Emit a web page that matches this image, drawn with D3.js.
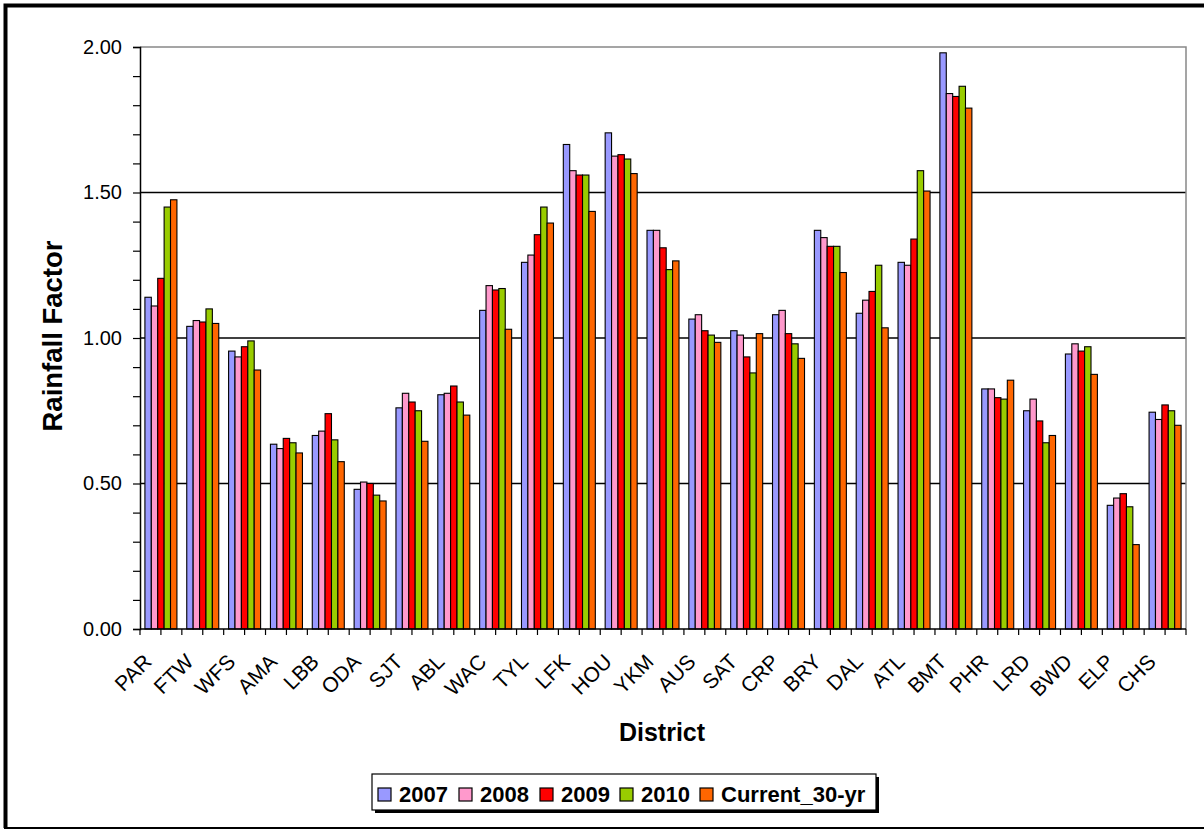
<!DOCTYPE html>
<html lang="en">
<head>
  <meta charset="UTF-8">
  <title>Rainfall Factor by District</title>
  <script src="https://d3js.org/d3.v7.min.js"></script>
  <style>
    body {
      margin: 0;
      font-family: Arial, "Liberation Sans", sans-serif;
      background: #fff;
    }
    svg text {
      fill: #000;
    }
  </style>
</head>
<body>
  <div id="chart"></div>

  <script>
    // Data
    const districts = ["PAR", "FTW", "WFS", "AMA", "LBB", "ODA", "SJT", "ABL", "WAC", "TYL", "LFK", "HOU", "YKM",
                       "AUS", "SAT", "CRP", "BRY", "DAL", "ATL", "BMT", "PHR", "LRD", "BWD", "ELP", "CHS"];
    const seriesNames = ["2007", "2008", "2009", "2010", "Current_30-yr"];
    const seriesColors = ["#9999FF", "#FF99CC", "#FF0000", "#99CC00", "#FF6600"];

    const y2007 = [1.14, 1.04, 0.955, 0.635, 0.665, 0.48, 0.76, 0.805, 1.095, 1.26, 1.665, 1.705, 1.37,
                   1.065, 1.025, 1.08, 1.37, 1.085, 1.26, 1.98, 0.825, 0.75, 0.945, 0.425, 0.745];
    const y2008 = [1.11, 1.06, 0.935, 0.62, 0.68, 0.505, 0.81, 0.81, 1.18, 1.285, 1.575, 1.625, 1.37,
                   1.08, 1.01, 1.095, 1.345, 1.13, 1.25, 1.84, 0.825, 0.79, 0.98, 0.45, 0.72];
    const y2009 = [1.205, 1.055, 0.97, 0.655, 0.74, 0.50, 0.78, 0.835, 1.165, 1.355, 1.56, 1.63, 1.31,
                   1.025, 0.935, 1.015, 1.315, 1.16, 1.34, 1.83, 0.795, 0.715, 0.955, 0.465, 0.77];
    const y2010 = [1.45, 1.10, 0.99, 0.64, 0.65, 0.46, 0.75, 0.78, 1.17, 1.45, 1.56, 1.615, 1.235,
                   1.01, 0.88, 0.98, 1.315, 1.25, 1.575, 1.865, 0.79, 0.64, 0.97, 0.42, 0.75];
    const yCurrent = [1.475, 1.05, 0.89, 0.605, 0.575, 0.44, 0.645, 0.735, 1.03, 1.395, 1.435, 1.565, 1.265,
                      0.985, 1.015, 0.93, 1.225, 1.035, 1.505, 1.79, 0.855, 0.665, 0.875, 0.29, 0.70];

    const yTicks = [0, 0.5, 1.0, 1.5, 2.0];

    const allSeries = [y2007, y2008, y2009, y2010, yCurrent];
    const rows = districts.map((d, i) => ({
      district: d,
      values: seriesNames.map((s, k) => ({ key: s, value: allSeries[k][i], color: seriesColors[k] }))
    }));

    const W = 1204, H = 830;
    const plot = { left: 140, right: 1186, top: 47, bottom: 629 };

    const svg = d3.select("#chart")
      .append("svg")
      .attr("width", W)
      .attr("height", H);

    // outer frame
    svg.append("rect")
      .attr("x", 0).attr("y", 0).attr("width", W).attr("height", H)
      .attr("fill", "#fff");
    svg.append("path")
      .attr("d", `M5.5,${H - 2}V5.5H${W}`)
      .attr("fill", "none").attr("stroke", "#000").attr("stroke-width", 4);
    svg.append("line")
      .attr("x1", 4).attr("x2", W).attr("y1", H - 2).attr("y2", H - 2)
      .attr("stroke", "#000").attr("stroke-width", 2);

    const x0 = d3.scaleBand()
      .domain(districts)
      .range([plot.left, plot.right])
      .paddingInner(0.235)
      .paddingOuter(0.1175);

    const x1 = d3.scaleBand()
      .domain(seriesNames)
      .range([0, x0.bandwidth()]);

    const y = d3.scaleLinear().domain([0, 2]).range([plot.bottom, plot.top]);

    // gridlines
    svg.append("g")
      .selectAll("line")
      .data(yTicks.filter(t => t > 0 && t < 2))
      .enter().append("line")
      .attr("x1", plot.left).attr("x2", plot.right)
      .attr("y1", d => y(d)).attr("y2", d => y(d))
      .attr("stroke", "#000").attr("stroke-width", 1.5);

    // plot border (top and right)
    svg.append("path")
      .attr("d", `M${plot.left},${y(2)}H${plot.right}V${plot.bottom}`)
      .attr("fill", "none").attr("stroke", "#888").attr("stroke-width", 1.5);

    // bars
    svg.append("g")
      .selectAll("g")
      .data(rows)
      .enter().append("g")
      .attr("transform", d => `translate(${x0(d.district)},0)`)
      .selectAll("rect")
      .data(d => d.values)
      .enter().append("rect")
      .attr("x", d => x1(d.key))
      .attr("y", d => y(d.value))
      .attr("width", x1.bandwidth())
      .attr("height", d => y(0) - y(d.value))
      .attr("fill", d => d.color)
      .attr("stroke", "#000")
      .attr("stroke-width", 1.1);

    // Y axis
    const yAxis = svg.append("g")
      .attr("transform", `translate(${plot.left},0)`)
      .call(d3.axisLeft(y).tickValues(d3.range(0, 2.001, 0.1)).tickSize(7)
        .tickFormat(d => yTicks.some(t => Math.abs(t - d) < 1e-6) ? d3.format(".2f")(d) : ""));
    yAxis.select(".domain").attr("stroke", "#000").attr("stroke-width", 1.5);
    yAxis.selectAll(".tick line").attr("stroke", "#000").attr("stroke-width", 1.2);
    yAxis.selectAll(".tick text")
      .attr("x", -18)
      .style("font-size", "20px")
      .style("font-family", "Arial, 'Liberation Sans', sans-serif");

    // X axis: ticks at category edges and centres
    const step = x0.step();
    const xTickPos = d3.range(0, districts.length * 2 + 1).map(i => plot.left + i * step / 2);
    const xAxis = svg.append("g");
    xAxis.append("line")
      .attr("x1", plot.left).attr("x2", plot.right)
      .attr("y1", plot.bottom).attr("y2", plot.bottom)
      .attr("stroke", "#000").attr("stroke-width", 1.5);
    xAxis.selectAll(".xt")
      .data(xTickPos)
      .enter().append("line")
      .attr("class", "xt")
      .attr("x1", d => d).attr("x2", d => d)
      .attr("y1", plot.bottom).attr("y2", plot.bottom + 6)
      .attr("stroke", "#000").attr("stroke-width", 1.2);

    xAxis.selectAll(".xl")
      .data(districts)
      .enter().append("text")
      .attr("class", "xl")
      .attr("transform", d => `translate(${x0(d) + x0.bandwidth() / 2 - 8},${plot.bottom + 34}) rotate(-45)`)
      .attr("text-anchor", "end")
      .style("font-size", "21px")
      .text(d => d);

    // axis titles
    svg.append("text")
      .attr("transform", `translate(62,336) rotate(-90)`)
      .attr("text-anchor", "middle")
      .style("font-size", "27.5px")
      .style("font-weight", "bold")
      .text("Rainfall Factor");

    svg.append("text")
      .attr("x", 662)
      .attr("y", 741)
      .attr("text-anchor", "middle")
      .style("font-size", "25px")
      .style("font-weight", "bold")
      .text("District");

    // legend
    const legend = svg.append("g");
    legend.append("rect")
      .attr("x", 375).attr("y", 777).attr("width", 504).attr("height", 36)
      .attr("fill", "#000");
    legend.append("rect")
      .attr("x", 372).attr("y", 774).attr("width", 504).attr("height", 36)
      .attr("fill", "#fff").attr("stroke", "#000").attr("stroke-width", 1.2);

    const legendX = [378, 459, 540, 620, 700];
    const items = legend.selectAll(".item")
      .data(seriesNames)
      .enter().append("g")
      .attr("class", "item")
      .attr("transform", (d, i) => `translate(${legendX[i]},788)`);
    items.append("rect")
      .attr("width", 13).attr("height", 13)
      .attr("fill", (d, i) => seriesColors[i])
      .attr("stroke", "#000").attr("stroke-width", 1.2);
    items.append("text")
      .attr("x", 21).attr("y", 13.5)
      .style("font-size", "22px")
      .style("font-weight", "bold")
      .text(d => d);
  </script>
</body>
</html>
